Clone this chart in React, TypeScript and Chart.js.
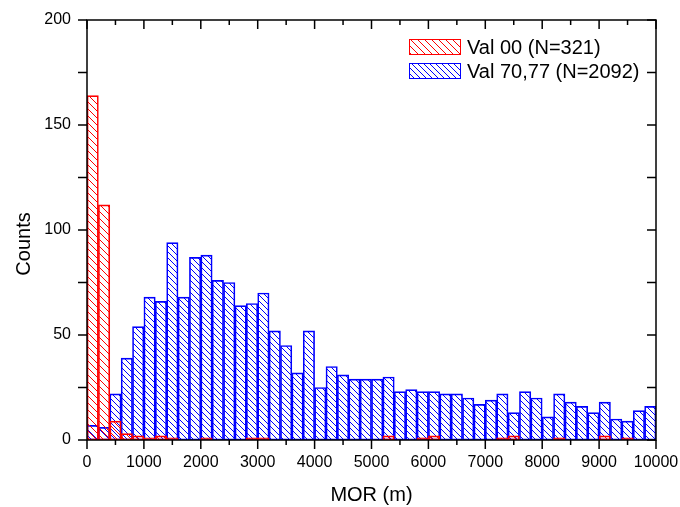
import React, { useEffect, useRef } from "react";
import { Chart, registerables } from "chart.js";

Chart.register(...registerables);

// Histogram bins (m): left edge of each 200 m bin
const BIN_STARTS = [
  0, 200, 400, 600, 800, 1000, 1200, 1400, 1600, 1800,
  2000, 2200, 2400, 2600, 2800, 3000, 3200, 3400, 3600, 3800,
  4000, 4200, 4400, 4600, 4800, 5000, 5200, 5400, 5600, 5800,
  6000, 6200, 6400, 6600, 6800, 7000, 7200, 7400, 7600, 7800,
  8000, 8200, 8400, 8600, 8800, 9000, 9200, 9400, 9600, 9800,
];
const BIN_WIDTH = 200;

const VAL00_LABEL = "Val 00 (N=321)";
const VAL00_COUNTS = [
  164, 112, 9, 3, 2, 1, 2, 1, 0, 0,
  1, 0, 0, 0, 1, 1, 0, 0, 0, 0,
  0, 0, 0, 0, 0, 0, 2, 0, 0, 1,
  2, 0, 0, 0, 0, 0, 1, 2, 0, 0,
  0, 1, 0, 0, 0, 2, 0, 1, 0, 0,
];

const VAL7077_LABEL = "Val 70,77 (N=2092)";
const VAL7077_COUNTS = [
  7, 6, 22, 39, 54, 68, 66, 94, 68, 87,
  88, 76, 75, 64, 65, 70, 52, 45, 32, 52,
  25, 35, 31, 29, 29, 29, 30, 23, 24, 23,
  23, 22, 22, 20, 17, 19, 22, 13, 23, 20,
  11, 22, 18, 16, 13, 18, 10, 9, 14, 16,
];

const X_MIN = 0;
const X_MAX = 10000;
const X_STEP = 1000;
const Y_MIN = 0;
const Y_MAX = 200;
const Y_STEP = 50;

const X_TITLE = "MOR (m)";
const Y_TITLE = "Counts";

const FONT = "'Liberation Sans', Arial, Helvetica, sans-serif";
const RED = "#ff0000";
const BLUE = "#0000ff";

function makeHatch(color: string, size: number): CanvasPattern | string {
  const c = document.createElement("canvas");
  c.width = size;
  c.height = size;
  const g = c.getContext("2d");
  if (!g) return color;
  g.strokeStyle = color;
  g.lineWidth = 1;
  g.beginPath();
  g.moveTo(-1, -1);
  g.lineTo(size + 1, size + 1);
  g.moveTo(size - 1, -1);
  g.lineTo(size + 1, 1);
  g.moveTo(-1, size - 1);
  g.lineTo(1, size + 1);
  g.stroke();
  const p = g.createPattern(c, "repeat");
  return p || color;
}

const framePlugin = {
  id: "originFrame",
  afterDatasetsDraw(chart: any) {
    const { ctx, chartArea } = chart;
    const { left, right, top, bottom } = chartArea;
    const xs = chart.scales.x;
    const ys = chart.scales.y;
    ctx.save();
    ctx.strokeStyle = "#000";
    ctx.lineWidth = 1.5;
    ctx.strokeRect(left, top, right - left, bottom - top);

    ctx.beginPath();
    const xv: number[] = xs.ticks.map((t: any) => t.value);
    xv.forEach((v) => {
      const px = xs.getPixelForValue(v);
      ctx.moveTo(px, bottom);
      ctx.lineTo(px, bottom + 9);
      ctx.moveTo(px, top);
      ctx.lineTo(px, top + 9);
    });
    for (let i = 0; i < xv.length - 1; i++) {
      const px = xs.getPixelForValue((xv[i] + xv[i + 1]) / 2);
      ctx.moveTo(px, bottom);
      ctx.lineTo(px, bottom + 5);
      ctx.moveTo(px, top);
      ctx.lineTo(px, top + 5);
    }
    const yv: number[] = ys.ticks.map((t: any) => t.value);
    const yAll: number[] = [];
    for (let i = 0; i < yv.length; i++) {
      yAll.push(yv[i]);
      if (i < yv.length - 1) yAll.push((yv[i] + yv[i + 1]) / 2);
    }
    yAll.forEach((v) => {
      const py = ys.getPixelForValue(v);
      ctx.moveTo(left - 9, py);
      ctx.lineTo(left, py);
      ctx.moveTo(right - 9, py);
      ctx.lineTo(right, py);
    });
    ctx.stroke();

    // legend
    const ds = chart.data.datasets;
    const boxX = 409;
    const boxW = 52;
    const boxH = 16;
    const rowY = [39, 63];
    ds.forEach((d: any, i: number) => {
      const y0 = rowY[i];
      ctx.fillStyle = "#ffffff";
      ctx.fillRect(boxX, y0, boxW, boxH);
      ctx.fillStyle = d.backgroundColor;
      ctx.fillRect(boxX, y0, boxW, boxH);
      ctx.strokeStyle = d.borderColor;
      ctx.lineWidth = 1;
      ctx.strokeRect(boxX + 0.5, y0 + 0.5, boxW - 1, boxH - 1);
      ctx.fillStyle = "#000";
      ctx.font = `20px ${FONT}`;
      ctx.textAlign = "left";
      ctx.textBaseline = "alphabetic";
      ctx.fillText(d.label, 467, y0 + 15);
    });

    // y title
    ctx.save();
    ctx.translate(24, 244);
    ctx.rotate(-Math.PI / 2);
    ctx.fillStyle = "#000";
    ctx.font = `20px ${FONT}`;
    ctx.textAlign = "center";
    ctx.textBaseline = "middle";
    ctx.fillText(Y_TITLE, 0, 0);
    ctx.restore();

    ctx.restore();
  },
};

export default function App() {
  const ref = useRef<HTMLCanvasElement | null>(null);

  useEffect(() => {
    document.body.style.margin = "0";
    const canvas = ref.current;
    if (!canvas) return;
    const redHatch = makeHatch(RED, 7);
    const blueHatch = makeHatch(BLUE, 6);

    const toPoints = (counts: number[]) =>
      BIN_STARTS.map((s, i) => ({ x: s + BIN_WIDTH / 2, y: counts[i] }));

    const chart = new Chart(canvas, {
      type: "bar",
      data: {
        datasets: [
          {
            label: VAL00_LABEL,
            data: toPoints(VAL00_COUNTS),
            backgroundColor: redHatch as any,
            borderColor: RED,
            borderWidth: 1,
            borderSkipped: false,
          },
          {
            label: VAL7077_LABEL,
            data: toPoints(VAL7077_COUNTS),
            backgroundColor: blueHatch as any,
            borderColor: BLUE,
            borderWidth: 1,
            borderSkipped: false,
          },
        ],
      },
      options: {
        responsive: false,
        animation: false,
        devicePixelRatio: 1,
        layout: { padding: { top: 20, right: 24, left: 0, bottom: 0 } },
        datasets: {
          bar: {
            grouped: false,
            barPercentage: 1,
            categoryPercentage: 1,
          },
        } as any,
        plugins: {
          legend: { display: false },
          tooltip: { enabled: false },
          title: { display: false },
        },
        scales: {
          x: {
            type: "linear",
            min: X_MIN,
            max: X_MAX,
            offset: false,
            grid: { display: false, drawTicks: false, offset: false },
            border: { display: false },
            ticks: {
              stepSize: X_STEP,
              padding: 13,
              color: "#000",
              maxRotation: 0,
              autoSkip: false,
              font: { family: FONT, size: 16 },
              callback: (v: any) => String(v),
            },
            title: {
              display: true,
              text: X_TITLE,
              color: "#000",
              font: { family: FONT, size: 20 },
              padding: { top: 0, bottom: 0 },
            },
            afterFit: (s: any) => {
              s.height = 67;
              s.paddingLeft = 0;
              s.paddingRight = 0;
            },
          },
          y: {
            type: "linear",
            min: Y_MIN,
            max: Y_MAX,
            grid: { display: false, drawTicks: false },
            border: { display: false },
            ticks: {
              stepSize: Y_STEP,
              padding: 16,
              color: "#000",
              font: { family: FONT, size: 16 },
              callback: (v: any) => String(v),
            },
            afterFit: (s: any) => {
              s.width = 87;
              s.paddingTop = 0;
              s.paddingBottom = 0;
            },
          },
        },
      } as any,
      plugins: [framePlugin],
    });

    return () => chart.destroy();
  }, []);

  return (
    <canvas
      ref={ref}
      width={680}
      height={507}
      style={{ display: "block", width: 680, height: 507 }}
    />
  );
}
